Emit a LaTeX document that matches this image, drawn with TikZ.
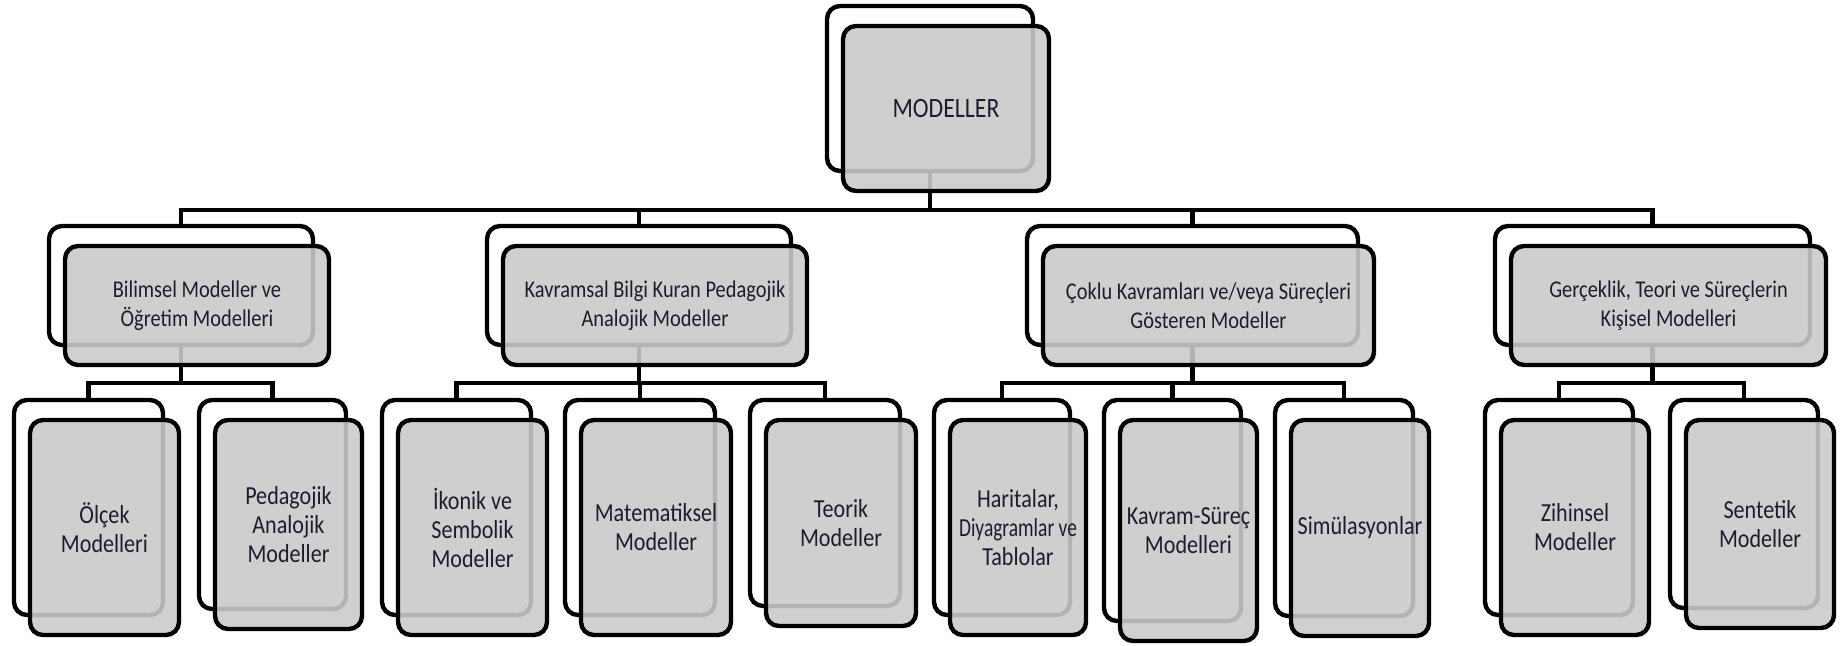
\documentclass[tikz,border=0pt]{standalone}
\usepackage{fontspec}
\setmainfont{Carlito}[FakeStretch=0.85]
\definecolor{boxgray}{RGB}{202,202,202}
\definecolor{inkcol}{RGB}{28,28,48}
\tikzset{
  backbox/.style={draw=black, line width=2.2pt, fill=white, rounded corners=6.5pt,
    inner sep=0pt, rectangle},
  frontbox/.style={draw=black, line width=2.2pt, fill=boxgray, fill opacity=0.89,
    draw opacity=1, text opacity=1, rounded corners=6.5pt, inner sep=0pt,
    rectangle, align=center, text=inkcol},
  topfont/.style={font=\fontsize{14}{16}\selectfont},
  midfont/.style={font=\fontsize{12}{14.5}\selectfont},
  lowfont/.style={font=\fontsize{13}{14.5}\selectfont},
  link/.style={draw=black, line width=2.4pt},
}
% back card: name, left, top, right, bottom (pixel grid, y downwards)
\newcommand\cardback[5]{%
  \pgfmathsetmacro\cbw{(#4-#2)*0.5}%
  \pgfmathsetmacro\cbh{(#5-#3)*0.5}%
  \node[backbox, minimum width=\cbw pt, minimum height=\cbh pt]
    (#1) at ({(#2+#4)/2},{(#3+#5)/2}) {};}
% front card, shifted down-right by (16,20): name, left, top, right, bottom, style, text
\newcommand\cardfront[7]{%
  \pgfmathsetmacro\cbw{(#4-#2)*0.5}%
  \pgfmathsetmacro\cbh{(#5-#3)*0.5}%
  \node[frontbox, #6, minimum width=\cbw pt, minimum height=\cbh pt]
    (#1) at ({(#2+#4)/2+16},{(#3+#5)/2+20}) {#7};}
\begin{document}
\begin{tikzpicture}[x=0.5pt, y=-0.5pt]
\useasboundingbox (0,0) rectangle (1840,646);

% back cards
\cardback{T}{827}{6}{1033}{171}
\cardback{A}{49}{226}{313}{345}
\cardback{B}{487}{226}{791}{345}
\cardback{C}{1027}{226}{1358}{345}
\cardback{D}{1495}{226}{1810}{345}
\cardback{A1}{14}{400}{163}{615}
\cardback{A2}{199}{400}{346}{609}
\cardback{B1}{382}{400}{531}{615}
\cardback{B2}{565}{400}{715}{615}
\cardback{B3}{750}{400}{900}{606}
\cardback{C1}{934}{400}{1070}{615}
\cardback{C2}{1104}{400}{1241}{621}
\cardback{C3}{1275}{400}{1413}{616}
\cardback{D1}{1485}{400}{1633}{615}
\cardback{D2}{1670}{400}{1818}{608}

% bus levels
\coordinate (bus0) at (0,210);
\coordinate (busA) at (0,383);
\coordinate (busB) at (0,383);
\coordinate (busC) at (0,383);
\coordinate (busD) at (0,383);

% connectors
\foreach \k in {A,B,C,D}
  \draw[link] (T.south) -- (T.south |- bus0) -| (\k.north);
\foreach \k in {A1,A2}
  \draw[link] (A.south) -- (A.south |- busA) -| (\k.north);
\foreach \k in {B1,B2,B3}
  \draw[link] (B.south) -- (B.south |- busB) -| (\k.north);
\foreach \k in {C1,C2,C3}
  \draw[link] (C.south) -- (C.south |- busC) -| (\k.north);
\foreach \k in {D1,D2}
  \draw[link] (D.south) -- (D.south |- busD) -| (\k.north);

% front cards with labels
\cardfront{Tf}{827}{6}{1033}{171}{topfont}{MODELLER}
\cardfront{Af}{49}{226}{313}{345}{midfont}{Bilimsel Modeller ve\\Öğretim Modelleri}
\cardfront{Bf}{487}{226}{791}{345}{midfont}{Kavramsal Bilgi Kuran Pedagojik\\Analojik Modeller}
\cardfront{Cf}{1027}{226}{1358}{345}{midfont}{Çoklu Kavramları ve/veya Süreçleri\\Gösteren Modeller}
\cardfront{Df}{1495}{226}{1810}{345}{midfont}{Gerçeklik, Teori ve Süreçlerin\\Kişisel Modelleri}
\cardfront{A1f}{14}{400}{163}{615}{lowfont}{Ölçek\\Modelleri}
\cardfront{A2f}{199}{400}{346}{609}{lowfont}{Pedagojik\\Analojik\\Modeller}
\cardfront{B1f}{382}{400}{531}{615}{lowfont}{İkonik ve\\Sembolik\\Modeller}
\cardfront{B2f}{565}{400}{715}{615}{lowfont}{Matematiksel\\Modeller}
\cardfront{B3f}{750}{400}{900}{606}{lowfont}{Teorik\\Modeller}
\cardfront{C1f}{934}{400}{1070}{615}{lowfont}{Haritalar,\\\scalebox{0.88}[1]{Diyagramlar ve}\\Tablolar}
\cardfront{C2f}{1104}{400}{1241}{621}{lowfont}{Kavram-Süreç\\Modelleri}
\cardfront{C3f}{1275}{400}{1413}{616}{lowfont}{Simülasyonlar}
\cardfront{D1f}{1485}{400}{1633}{615}{lowfont}{Zihinsel\\Modeller}
\cardfront{D2f}{1670}{400}{1818}{608}{lowfont}{Sentetik\\Modeller}
\end{tikzpicture}
\end{document}
